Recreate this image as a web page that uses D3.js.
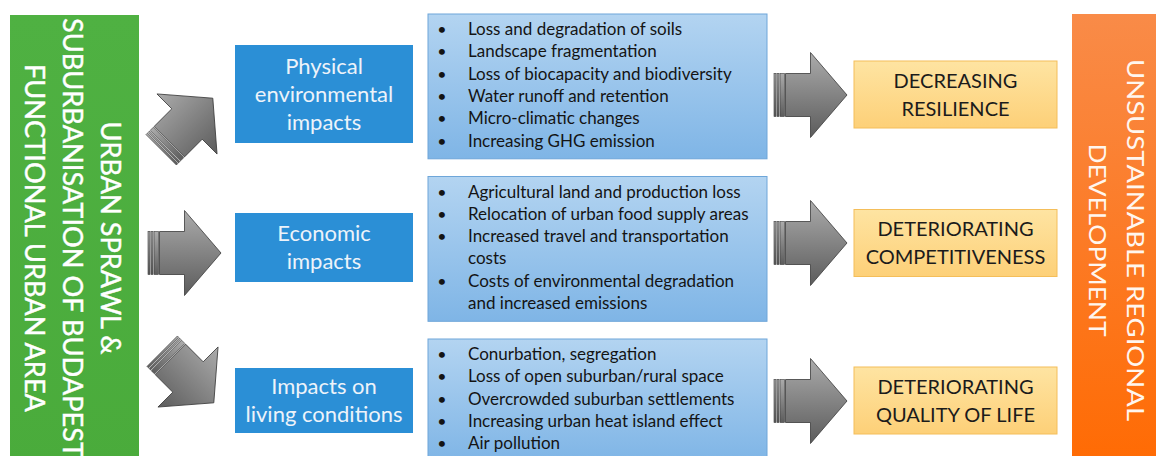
<!DOCTYPE html>
<html>
<head>
<meta charset="utf-8">
<script src="https://cdn.jsdelivr.net/npm/d3@7"></script>
<style>
  body { margin: 0; background: #fff; }
  svg { display: block; font-family: Lato, 'Open Sans', sans-serif; }
</style>
</head>
<body>
<div id="chart"></div>
<script>
// diagram content
const sourceLines = ['URBAN SPRAWL &', 'SUBURBANISATION OF BUDAPEST', 'FUNCTIONAL URBAN AREA'];
const outcomeLines = ['UNSUSTAINABLE REGIONAL', 'DEVELOPMENT'];
const impactTitles = [
  ['Physical', 'environmental', 'impacts'],
  ['Economic', 'impacts'],
  ['Impacts on', 'living conditions'],
];
const impactItems = [
  ['Loss and degradation of soils', 'Landscape fragmentation', 'Loss of biocapacity and biodiversity',
   'Water runoff and retention', 'Micro-climatic changes', 'Increasing GHG emission'],
  ['Agricultural land and production loss', 'Relocation of urban food supply areas',
   'Increased travel and transportation\ncosts', 'Costs of environmental degradation\nand increased emissions'],
  ['Conurbation, segregation', 'Loss of open suburban/rural space', 'Overcrowded suburban settlements',
   'Increasing urban heat island effect', 'Air pollution'],
];
const consequences = [
  ['DECREASING', 'RESILIENCE'],
  ['DETERIORATING', 'COMPETITIVENESS'],
  ['DETERIORATING', 'QUALITY OF LIFE'],
];

const width = 1156, height = 456;
const svg = d3.select('#chart').append('svg')
  .attr('width', width)
  .attr('height', height);
const defs = svg.append('defs');

// vertical gradients
const addGradient = (id, stops) => {
  const g = defs.append('linearGradient').attr('id', id)
    .attr('x1', 0).attr('y1', 0).attr('x2', 0).attr('y2', 1);
  stops.forEach((c, i) => g.append('stop')
    .attr('offset', i / (stops.length - 1)).attr('stop-color', c));
};
addGradient('gGreen', ['#4fb142', '#4aab3b']);
addGradient('gOrange', ['#f98b48', '#ff6a02']);
addGradient('gList', ['#b3d4f1', '#7fb5e6']);
addGradient('gYellow', ['#fee4a2', '#fdd078']);
addGradient('gArrow', ['#ababab', '#5c5c5c']);

// row positions
const rowY = d3.scalePoint().domain(d3.range(3)).range([94, 400]);
const listTop = d3.scalePoint().domain(d3.range(3)).range([14, 339]);

// ---- left green box
svg.append('rect')
  .attr('x', 10).attr('y', 15).attr('width', 129).attr('height', 460)
  .attr('fill', 'url(#gGreen)');

const greenCx = [110, 72, 34];
const greenLen = [233, 440, 348];
svg.append('g').selectAll('text')
  .data(sourceLines)
  .join('text')
  .attr('x', (d, i) => greenCx[i] - 9.5)
  .attr('y', 238)
  .attr('transform', (d, i) => `rotate(90, ${greenCx[i] - 9.5}, 238)`)
  .attr('text-anchor', 'middle')
  .attr('textLength', (d, i) => greenLen[i])
  .attr('lengthAdjust', 'spacingAndGlyphs')
  .style('font-size', '26px')
  .style('fill', '#ffffff')
  .style('stroke', '#ffffff')
  .style('stroke-width', 0.4)
  .text(d => d);

// ---- right orange box
svg.append('rect')
  .attr('x', 1072).attr('y', 14).attr('width', 100).attr('height', 460)
  .attr('fill', 'url(#gOrange)');

const orangeCx = [1135, 1097];
const orangeLen = [362, 193];
svg.append('g').selectAll('text')
  .data(outcomeLines)
  .join('text')
  .attr('x', (d, i) => orangeCx[i] - 8.5)
  .attr('y', 240)
  .attr('transform', (d, i) => `rotate(90, ${orangeCx[i] - 8.5}, 240)`)
  .attr('text-anchor', 'middle')
  .attr('textLength', (d, i) => orangeLen[i])
  .attr('lengthAdjust', 'spacingAndGlyphs')
  .style('font-size', '24px')
  .style('fill', '#fff6ef')
  .text(d => d);

// ---- block arrow (local coords, pointing right, centred on 0)
const drawArrow = (cx, cy, angle) => {
  const a = svg.append('g')
    .attr('transform', `translate(${cx},${cy}) rotate(${angle})`);
  const stripes = [[-36.5, 2], [-33.5, 2], [-30.5, 4.5]];
  stripes.forEach(([x, w]) => a.append('rect')
    .attr('x', x).attr('y', -21.5).attr('width', w).attr('height', 43)
    .attr('fill', 'url(#gArrow)').attr('stroke', '#3a3a3a').attr('stroke-width', 0.6));
  a.append('path')
    .attr('d', 'M-25,-21.5 L0,-21.5 L0,-42.5 L36.5,0 L0,42.5 L0,21.5 L-25,21.5 Z')
    .attr('fill', 'url(#gArrow)')
    .attr('stroke', '#3a3a3a')
    .attr('stroke-width', 0.8);
};

// left arrows: green box -> impact titles
const leftArrows = [
  { x: 187, dy: 30, angle: -45 },
  { x: 184.5, dy: 6, angle: 0 },
  { x: 188, dy: -23, angle: 45 },
];
leftArrows.forEach((d, i) => drawArrow(d.x, rowY(i) + d.dy, d.angle));

// right arrows: lists -> consequences
const rightDy = [1, -4, 1];
d3.range(3).forEach(i => drawArrow(810.5, rowY(i) + rightDy[i], 0));

// ---- impact title boxes
const titleH = [98, 69, 65];
const titleDy = [0, 0.5, 0.5];
const titles = svg.append('g').selectAll('g')
  .data(impactTitles)
  .join('g');
titles.append('rect')
  .attr('x', 235)
  .attr('y', (d, i) => rowY(i) + titleDy[i] - titleH[i] / 2)
  .attr('width', 178)
  .attr('height', (d, i) => titleH[i])
  .attr('fill', '#2b8fd6');
titles.each(function(lines, i) {
  d3.select(this).selectAll('text')
    .data(lines)
    .join('text')
    .attr('x', 324)
    .attr('y', (d, j) => rowY(i) + titleDy[i] + (j - (lines.length - 1) / 2) * 28 + 7.5)
    .attr('text-anchor', 'middle')
    .style('font-size', '22px')
    .style('fill', '#edf3fa')
    .text(d => d);
});

// ---- bullet list boxes
const lineStep = 22.3;
const lists = svg.append('g').selectAll('g')
  .data(impactItems)
  .join('g');
lists.each(function(items, i) {
  const g = d3.select(this);
  const lines = [];
  items.forEach(item => item.split('\n').forEach((t, k) => lines.push({ t, bullet: k === 0 })));
  const top = listTop(i);
  g.append('rect')
    .attr('x', 428).attr('y', top)
    .attr('width', 339)
    .attr('height', lines.length * lineStep + 11)
    .attr('fill', 'url(#gList)')
    .attr('stroke', '#6ea6d9')
    .attr('stroke-width', 1);
  g.selectAll('text.item')
    .data(lines)
    .join('text')
    .attr('class', 'item')
    .attr('x', 468)
    .attr('y', (d, j) => top + 21 + j * lineStep)
    .style('font-size', '17px')
    .style('fill', '#141414')
    .text(d => d.t);
  g.selectAll('text.bullet')
    .data(lines.map((d, j) => ({ ...d, j })).filter(d => d.bullet))
    .join('text')
    .attr('class', 'bullet')
    .attr('x', 442)
    .attr('y', d => top + 21 + d.j * lineStep)
    .attr('text-anchor', 'middle')
    .style('font-size', '16px')
    .style('fill', '#141414')
    .text('•');
});

// ---- consequence boxes
const consDy = [0.5, -4, 0.5];
const cons = svg.append('g').selectAll('g')
  .data(consequences)
  .join('g');
cons.append('rect')
  .attr('x', 854)
  .attr('y', (d, i) => rowY(i) + consDy[i] - 33.5)
  .attr('width', 203)
  .attr('height', 67)
  .attr('fill', 'url(#gYellow)')
  .attr('stroke', '#f4be5a')
  .attr('stroke-width', 1);
cons.each(function(lines, i) {
  d3.select(this).selectAll('text')
    .data(lines)
    .join('text')
    .attr('x', 955.5)
    .attr('y', (d, j) => rowY(i) + consDy[i] + (j - 0.5) * 28 + 7)
    .attr('text-anchor', 'middle')
    .style('font-size', '20px')
    .style('fill', '#1b1b1b')
    .text(d => d);
});
</script>
</body>
</html>
